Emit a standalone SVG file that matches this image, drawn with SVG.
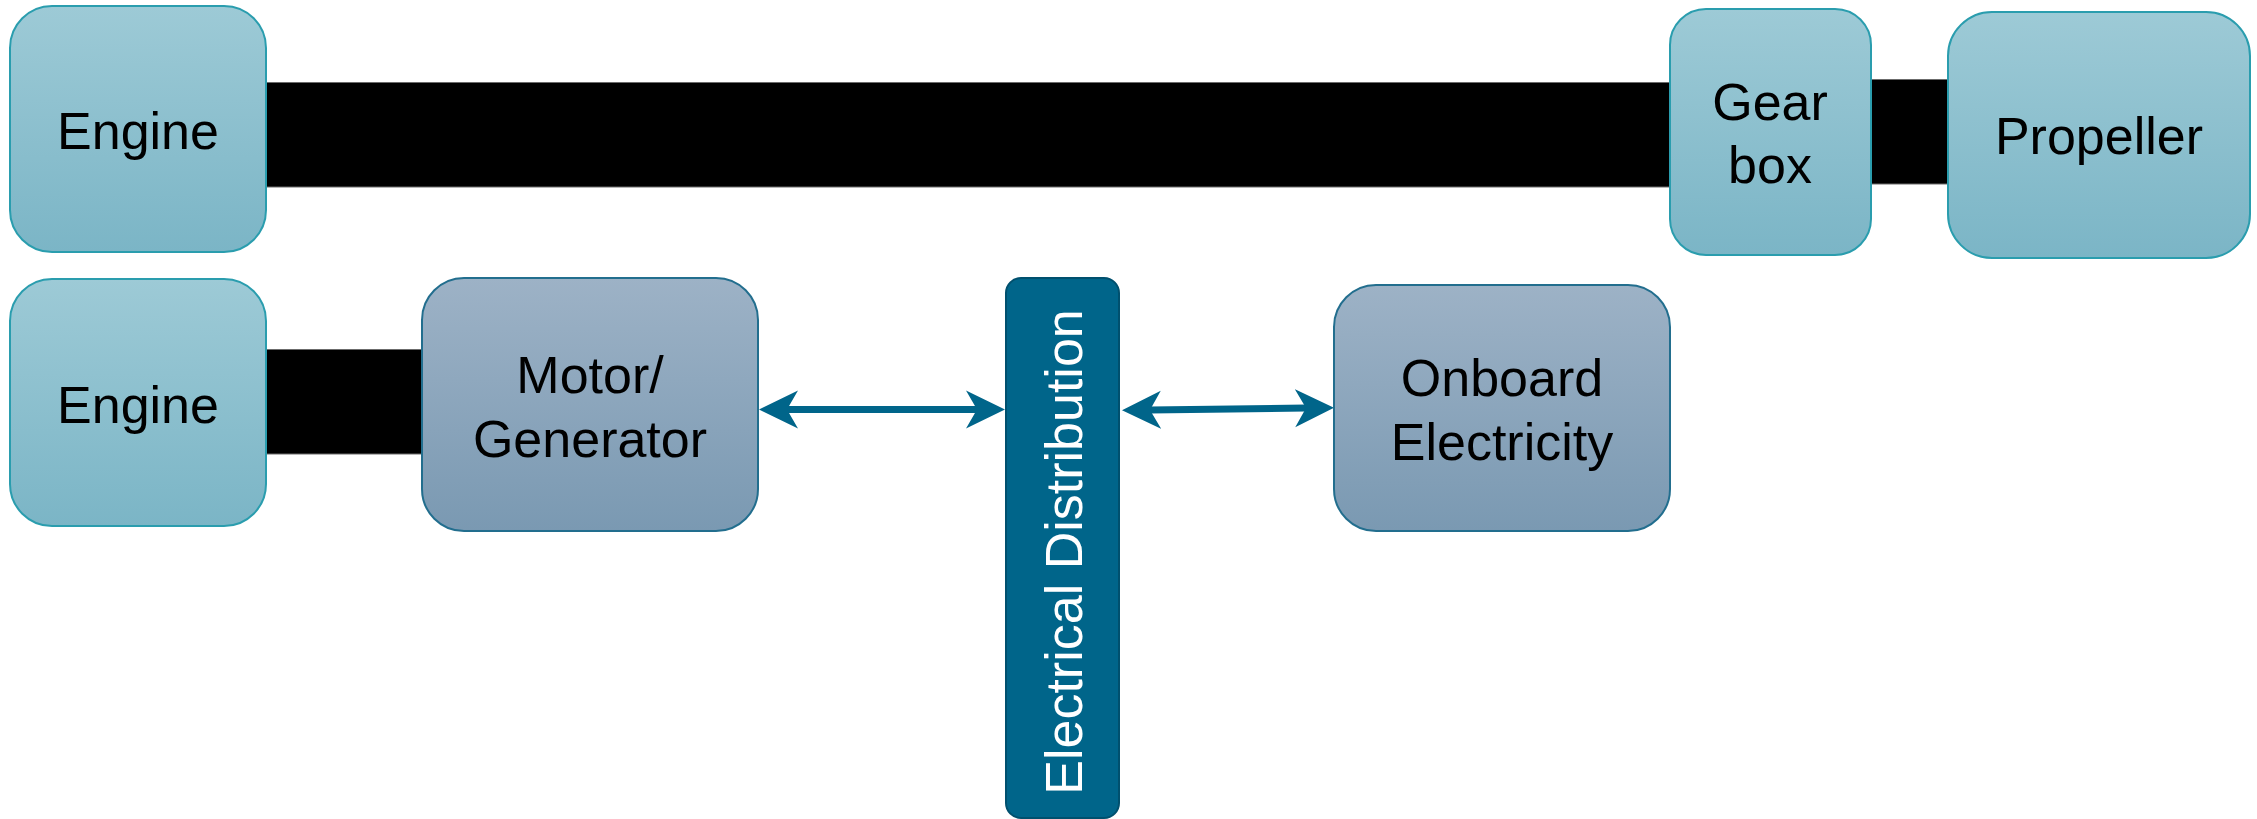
<svg xmlns="http://www.w3.org/2000/svg" width="2257" height="819" viewBox="0 0 2257 819">
  <defs>
    <linearGradient id="gradMech" x1="0" y1="0" x2="0" y2="1">
      <stop offset="0" stop-color="#9DCAD6"/>
      <stop offset="1" stop-color="#7BB5C6"/>
    </linearGradient>
    <linearGradient id="gradElec" x1="0" y1="0" x2="0" y2="1">
      <stop offset="0" stop-color="#9DB2C6"/>
      <stop offset="1" stop-color="#7A99B2"/>
    </linearGradient>
    <marker id="head" viewBox="0 -20 40 40" markerWidth="40" markerHeight="40" markerUnits="userSpaceOnUse" refX="11" refY="0" orient="auto-start-reverse">
      <path d="M0,-19 L39,0 L0,19 L11,0 Z" fill="#00658A"/>
    </marker>
    <style>
      .mech { fill: url(#gradMech); stroke: #2A9DAE; stroke-width: 2; }
      .elec { fill: url(#gradElec); stroke: #226E8E; stroke-width: 2; }
      .bus { fill: #00658A; stroke: #00506E; stroke-width: 2; }
      .shaft { fill: #000000; stroke: #6b6b6b; stroke-width: 1; }
      .link { stroke: #00658A; stroke-width: 7; fill: none; marker-start: url(#head); marker-end: url(#head); }
      .label { font-family: "Liberation Sans", Arial, sans-serif; font-size: 52px; fill: #000000; text-anchor: middle; }
      .busLabel { font-family: "Liberation Sans", Arial, sans-serif; font-size: 52px; fill: #FFFFFF; text-anchor: middle; }
    </style>
  </defs>

  <!-- shafts and electrical links -->
  <g id="connectors">
    <rect class="shaft" x="262" y="82.5" width="1412" height="104.5"/>
    <rect class="shaft" x="1867" y="79.5" width="85" height="104.5"/>
    <rect class="shaft" x="262" y="349.5" width="164" height="104.5"/>
    <line class="link" x1="787" y1="409.5" x2="977" y2="409.5"/>
    <line class="link" x1="1150" y1="410" x2="1306" y2="408"/>
  </g>

  <g id="engine-main">
    <rect class="mech" x="10" y="6" width="256" height="246" rx="42" ry="42"/>
    <text class="label" x="138" y="149">Engine</text>
  </g>

  <g id="gearbox">
    <rect class="mech" x="1670" y="9" width="201" height="246" rx="36" ry="36"/>
    <text class="label" x="1770" y="120">Gear</text>
    <text class="label" x="1770" y="183">box</text>
  </g>

  <g id="propeller">
    <rect class="mech" x="1948" y="12" width="302" height="246" rx="44" ry="44"/>
    <text class="label" x="2099" y="154">Propeller</text>
  </g>

  <g id="engine-aux">
    <rect class="mech" x="10" y="279" width="256" height="247" rx="42" ry="42"/>
    <text class="label" x="138" y="423">Engine</text>
  </g>

  <g id="motor-generator">
    <rect class="elec" x="422" y="278" width="336" height="253" rx="42" ry="42"/>
    <text class="label" x="590" y="393">Motor/</text>
    <text class="label" x="590" y="457">Generator</text>
  </g>

  <g id="electrical-distribution">
    <rect class="bus" x="1006" y="278" width="113" height="540" rx="15" ry="15"/>
    <text class="busLabel" transform="translate(1082 552) rotate(-90)">Electrical Distribution</text>
  </g>

  <g id="onboard-electricity">
    <rect class="elec" x="1334" y="285" width="336" height="246" rx="42" ry="42"/>
    <text class="label" x="1502" y="396">Onboard</text>
    <text class="label" x="1502" y="460">Electricity</text>
  </g>
</svg>
